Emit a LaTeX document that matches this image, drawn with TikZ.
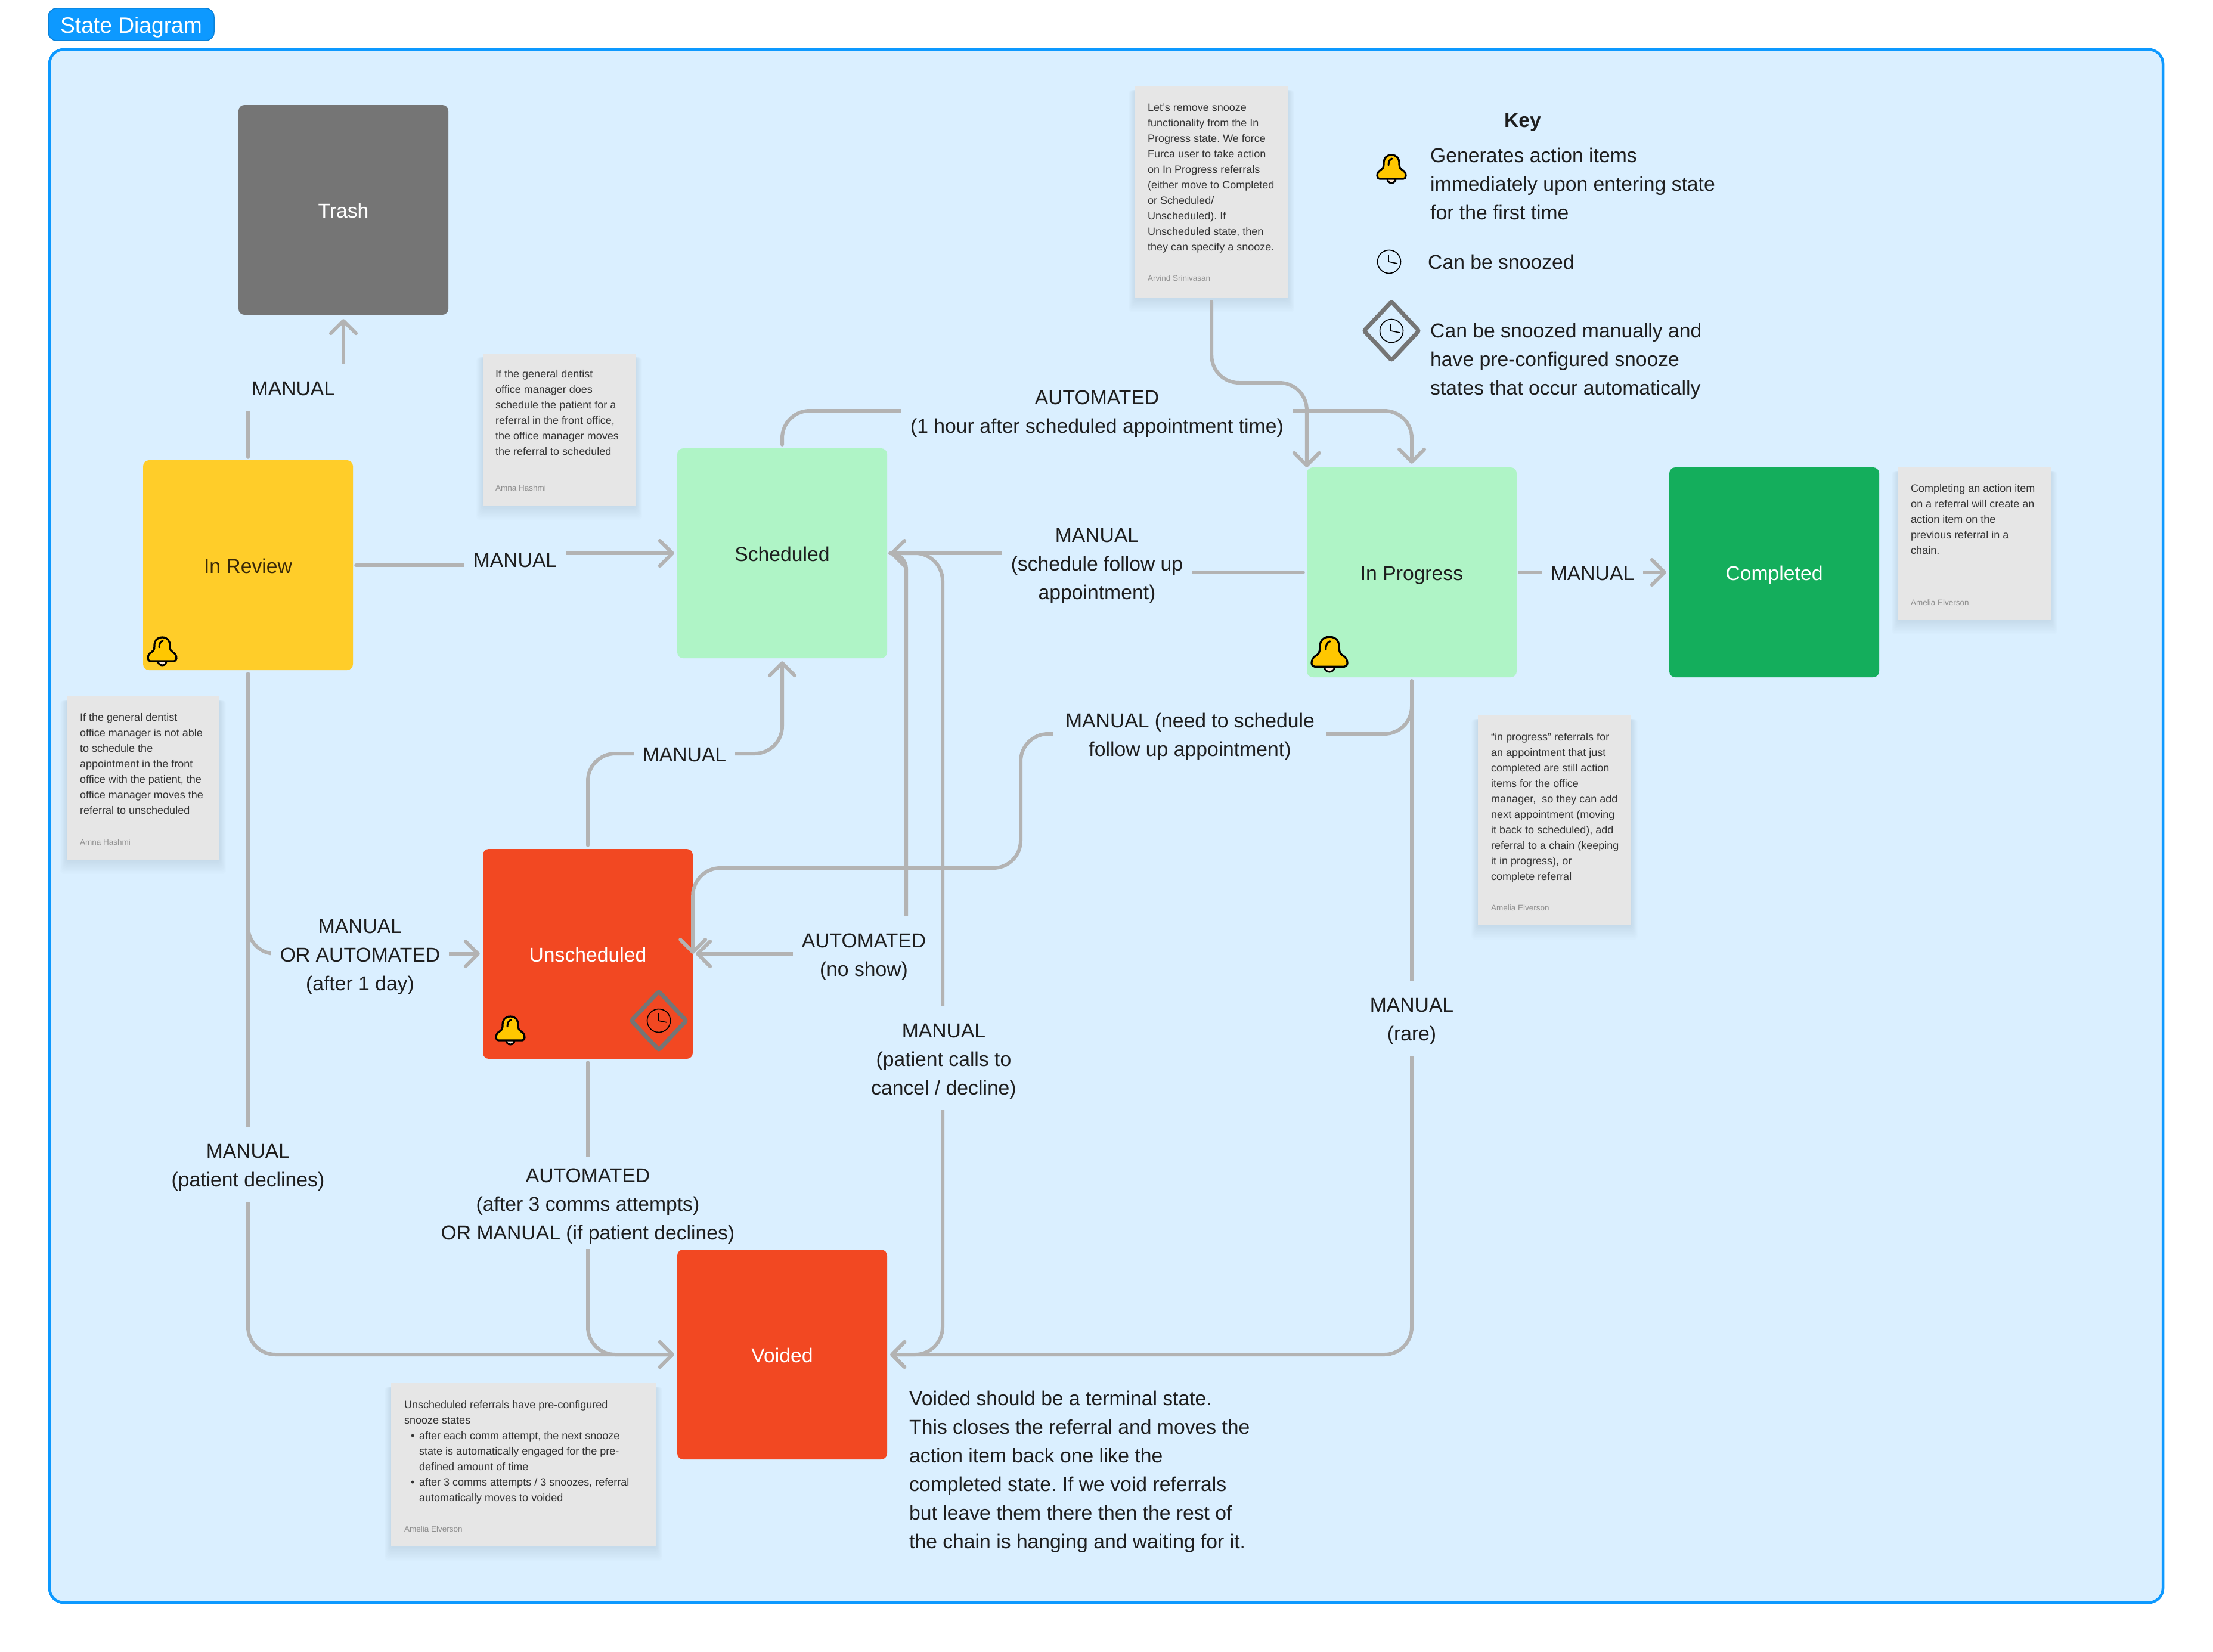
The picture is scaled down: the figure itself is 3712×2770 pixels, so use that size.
\documentclass[tikz,border=0pt]{standalone}
\usepackage{fontspec}
\setmainfont{Liberation Sans}
\usetikzlibrary{arrows.meta,calc}
\definecolor{panelfill}{HTML}{DAEFFF}
\definecolor{panelline}{HTML}{0D99FF}
\definecolor{linegray}{HTML}{B3B3B3}
\definecolor{inkdark}{HTML}{1E1E1E}
\definecolor{cardfill}{HTML}{E6E6E6}
\definecolor{cardtext}{HTML}{333333}
\definecolor{cardauth}{HTML}{8F8F8F}
\definecolor{bellyellow}{HTML}{FFC700}
\definecolor{grayicon}{HTML}{757575}
\frenchspacing
\newcommand{\bigrule}{\rule[-11pt]{0pt}{48pt}}
\newcommand{\smallrule}{\rule[-6.5pt]{0pt}{26pt}}
\tikzset{
  statebox/.style={rectangle,rounded corners=10pt,minimum width=352pt,minimum height=352pt,inner sep=0pt,text=white,text height=26pt,text depth=0pt,font=\fontsize{33.7}{48}\selectfont},
  lbl/.style={fill=panelfill,inner xsep=15pt,inner ysep=15pt,align=center,text=inkdark,font=\fontsize{33.7}{48}\selectfont,execute at begin node=\bigrule,execute at end node=\bigrule},
  plain/.style={inner sep=0pt,align=left,anchor=north west,text=inkdark,font=\fontsize{33.7}{48}\selectfont,execute at begin node=\bigrule,execute at end node=\bigrule},
  cardbox/.style={rectangle,fill=cardfill,inner sep=0pt,anchor=north west},
  cardtxt/.style={inner sep=0pt,align=left,anchor=north west,text=cardtext,font=\fontsize{18}{26}\selectfont,execute at begin node=\smallrule,execute at end node=\smallrule},
  cardaut/.style={inner sep=0pt,anchor=west,text=cardauth,font=\fontsize{13.5}{18}\selectfont},
  conn/.style={draw=linegray,line width=6pt,line cap=round,line join=round,rounded corners=46pt},
  sharpconn/.style={draw=linegray,line width=6pt,line cap=round,line join=round},
  head/.style={-{Straight Barb[length=21pt,width=42pt,round]}},
  bellicon/.pic={
    \draw[fill=white!85!orange,draw=black,line width=3pt] (0,17) circle (7);
    \draw[fill=bellyellow,draw=black,line width=3.2pt,line join=round]
      (0,-23) .. controls (9,-23) and (13,-17) .. (13,-9)
      .. controls (13,-1) and (15,0) .. (18,2)
      .. controls (22,4) and (24,8) .. (24,12)
      .. controls (24,15) and (22,17) .. (20,17) -- (-20,17)
      .. controls (-22,17) and (-24,15) .. (-24,12)
      .. controls (-24,8) and (-22,4) .. (-18,2)
      .. controls (-15,0) and (-13,-1) .. (-13,-9)
      .. controls (-13,-17) and (-9,-23) .. (0,-23) -- cycle;
    \draw[line width=3pt,line cap=round] (-5,-6) .. controls (-5,-12) and (-3,-16) .. (1,-17);
  },
  clockicon/.pic={
    \draw[black,line width=1.6pt] (0,0) circle (19.5);
    \draw[black,line width=1.6pt] (-1,-12) -- (-1,0) -- (14,3);
  },
  snoozeicon/.pic={
    \draw[grayicon,line width=7pt,rounded corners=3pt] (0,-49) -- (46,0) -- (0,49) -- (-46,0) -- cycle;
    \path (0,0) pic {clockicon};
  }
}
\newcommand{\notecard}[5]{%
  \foreach \i in {1,...,10}{\fill[black,opacity=0.009,rounded corners=6pt] ({#2-\i*1.1},{#3+6}) rectangle ({#2+#4+\i*1.1},{#3+#5+\i*2.4});}
  \node[cardbox,minimum width=#4pt,minimum height=#5pt] (#1) at (#2,#3) {};
}
\begin{document}
\begin{tikzpicture}[x=1pt,y=-1pt]
\fill[white] (0,0) rectangle (3712,2770);
\path[use as bounding box] (0,0) rectangle (3712,2770);
% frame and tag
\draw[panelline,fill=panelfill,line width=4.5pt,rounded corners=24pt] (83,83) rectangle (3628,2688);
\node[rectangle,fill=panelline,draw=panelline!85!black,line width=1.5pt,rounded corners=14pt,minimum width=278pt,minimum height=54pt,inner sep=0pt,text=white,text height=30pt,text depth=0pt,font=\fontsize{37.2}{44}\selectfont] (tag) at (220,41) {State Diagram};
% states
\node[statebox,fill=grayicon] (trash) at (576,352) {Trash};
\node[statebox,fill={rgb,255:red,255;green,205;blue,41},text={rgb,255:red,56;green,40;blue,8}] (review) at (416,948) {In Review};
\node[statebox,fill={rgb,255:red,175;green,244;blue,198},text=inkdark] (sched) at (1312,928) {Scheduled};
\node[statebox,fill={rgb,255:red,175;green,244;blue,198},text=inkdark] (prog) at (2368,960) {In Progress};
\node[statebox,fill={rgb,255:red,20;green,174;blue,92}] (comp) at (2976,960) {Completed};
\node[statebox,fill={rgb,255:red,242;green,72;blue,34}] (uns) at (986,1600) {Unscheduled};
\node[statebox,fill={rgb,255:red,242;green,72;blue,34}] (void) at (1312,2272) {Voided};
% sticky notes
\notecard{nAmnaA}{810}{593}{256}{255}
\notecard{nArvind}{1904}{145}{256}{355}
\notecard{nComp}{3184}{784}{256}{256}
\notecard{nAmnaB}{112}{1168}{256}{274}
\notecard{nProg}{2479}{1200}{257}{352}
\notecard{nUns}{656}{2320}{444}{274}
\node[cardtxt] (tA) at (831,614) {\smallrule If the general dentist\\office manager does\\schedule the patient for a\\referral in the front office,\\the office manager moves\\the referral to scheduled};
\node[cardaut] (aA) at (831,819) {Amna Hashmi};
\node[cardtxt] (tB) at (1925,166.5) {\smallrule Let’s remove snooze\\functionality from the In\\Progress state. We force\\Furca user to take action\\on In Progress referrals\\(either move to Completed\\or Scheduled/\\Unscheduled). If\\Unscheduled state, then\\they can specify a snooze.};
\node[cardaut] (aB) at (1925,467) {Arvind Srinivasan};
\node[cardtxt] (tC) at (3205,806) {\smallrule Completing an action item\\on a referral will create an\\action item on the\\previous referral in a\\chain.};
\node[cardaut] (aC) at (3205,1011) {Amelia Elverson};
\node[cardtxt] (tD) at (134,1190) {\smallrule If the general dentist\\office manager is not able\\to schedule the\\appointment in the front\\office with the patient, the\\office manager moves the\\referral to unscheduled};
\node[cardaut] (aD) at (134,1413) {Amna Hashmi};
\node[cardtxt] (tE) at (2501,1223) {\smallrule “in progress” referrals for\\an appointment that just\\completed are still action\\items for the office\\manager,\ \ so they can add\\next appointment (moving\\it back to scheduled), add\\referral to a chain (keeping\\it in progress), or\\complete referral};
\node[cardaut] (aE) at (2501,1523) {Amelia Elverson};
\node[cardtxt] (tF) at (678,2343) {\smallrule Unscheduled referrals have pre-configured\\snooze states\\\makebox[25pt][l]{\hspace{11pt}•}after each comm attempt, the next snooze\\\hspace*{25pt}state is automatically engaged for the pre-\\\hspace*{25pt}defined amount of time\\\makebox[25pt][l]{\hspace{11pt}•}after 3 comms attempts / 3 snoozes, referral\\\hspace*{25pt}automatically moves to voided};
\node[cardaut] (aF) at (678,2565) {Amelia Elverson};
% route points
\coordinate (lm1) at (492,650);
\coordinate (lm2) at (864,938);
\coordinate (lm3) at (1840,689);
\coordinate (lm5) at (1840,944);
\coordinate (wa) at (1520,1600);
\coordinate (wb) at (1581,2272);
\coordinate (wc) at (1712,1231);
\coordinate (wd) at (1712,1456);
\coordinate (we) at (2192,642);
\coordinate (lm10) at (1148,1264);
\draw[sharpconn,head,shorten <=5pt,shorten >=7pt] (review.north) |- (lm1) -| (trash.south);
\draw[sharpconn,head,shorten <=5pt,shorten >=5pt] (review.east) -| (lm2) |- (sched.west);
\draw[conn,head,shorten <=6pt,shorten >=6pt] (sched.north) |- (lm3) -| (prog.north);
\draw[sharpconn,head,shorten <=6pt,shorten >=5pt] (prog.west) -| (lm5) |- (sched.east);
\draw[conn,head,rounded corners=26pt,shorten <=5pt,shorten >=5pt] (sched.east) -| (wa) -- (uns.east);
\draw[conn,head,shorten <=5pt,shorten >=5pt] (sched.east) -| (wb) -- (void.east);
\draw[conn,head,shorten <=6pt,shorten >=5pt] (prog.south) |- (void.east);
\draw[conn,head,shorten <=6pt] (prog.south) |- (wc) -- (wd) -| (uns.east);
\draw[conn,head,shorten <=6pt,shorten >=5pt] (uns.north) |- (lm10) -| (sched.south);
\draw[conn,head,shorten <=6pt,shorten >=5pt] (review.south) |- (uns.west);
\draw[conn,head,shorten <=6pt,shorten >=5pt] (review.south) |- (void.west);
\draw[conn,head,shorten <=6pt,shorten >=5pt] (uns.south) |- (void.west);
\draw[sharpconn,head,shorten <=5pt,shorten >=5pt] (prog.east) -- (comp.west);
% labels
\node[lbl,minimum width=176pt] (l1) at (492,650) {MANUAL};
\node[lbl,minimum width=166pt] (l2) at (864,938) {MANUAL};
\node[lbl] (l3) at (1840,689) {\bigrule AUTOMATED\\(1 hour after scheduled appointment time)};
\node[lbl] (l5) at (1840,944) {\bigrule MANUAL\\(schedule follow up\\appointment)};
\node[lbl] (l6) at (1449,1600) {\bigrule AUTOMATED\\(no show)};
\node[lbl] (l7) at (1583,1775) {\bigrule MANUAL\\(patient calls to\\cancel / decline)};
\node[lbl] (l8) at (2368,1708) {\bigrule MANUAL\\(rare)};
\node[lbl,inner xsep=20pt] (l9) at (1996,1231) {\bigrule MANUAL (need to schedule\\follow up appointment)};
\node[lbl] (l10) at (1148,1264) {MANUAL};
\node[lbl] (l11) at (604,1600) {\bigrule MANUAL\\OR AUTOMATED\\(after 1 day)};
\node[lbl] (l12) at (416,1953) {\bigrule MANUAL\\(patient declines)};
\node[lbl,inner ysep=5pt] (l13) at (986,2018) {\bigrule AUTOMATED\\(after 3 comms attempts)\\OR MANUAL (if patient declines)};
\node[lbl] (lC) at (2671,960) {MANUAL};
% note connector runs above the label boxes
\draw[conn,head,shorten <=6pt] (nArvind.south) |- (we) -- (prog.north west);
% free text
\node[plain] (vtxt) at (1525,2320) {\bigrule Voided should be a terminal state.\\This closes the referral and moves the\\action item back one like the\\completed state. If we void referrals\\but leave them there then the rest of\\the chain is hanging and waiting for it.};
\node[plain,font=\fontsize{33.7}{48}\selectfont\bfseries,anchor=center] (keyh) at (2554,200) {Key};
\node[plain] (k1) at (2399,235) {\bigrule Generates action items\\immediately upon entering state\\for the first time};
\node[plain] (k2) at (2395,414) {Can be snoozed};
\node[plain] (k3) at (2399,529) {\bigrule Can be snoozed manually and\\have pre-configured snooze\\states that occur automatically};
% icons
\path (272,1092) pic {bellicon};
\path (856,1728) pic {bellicon};
\path (2230,1097) pic[scale=1.25] {bellicon};
\path (2334,283) pic {bellicon};
\path (2330,439) pic {clockicon};
\path (2334,555) pic {snoozeicon};
\path (1105,1712) pic {snoozeicon};
\end{tikzpicture}
\end{document}
